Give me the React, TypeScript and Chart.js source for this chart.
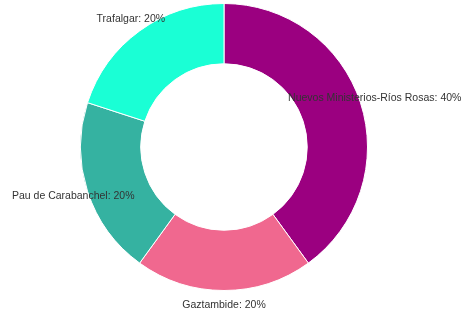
import React, { useEffect, useRef } from "react";
import { Chart, registerables } from "chart.js";

Chart.register(...registerables);

const categories = ["Nuevos Ministerios-Ríos Rosas", "Gaztambide", "Pau de Carabanchel", "Trafalgar"];
const values = [40, 20, 20, 20];
const colors = ["#9b0080", "#f0688f", "#35b2a1", "#1affd5"];

const labelPlugin = {
  id: "outerLabels",
  afterDraw(chart: any) {
    const ctx = chart.ctx;
    const meta = chart.getDatasetMeta(0);
    const total = values.reduce((a, b) => a + b, 0);
    ctx.save();
    ctx.font = '10.5px "Liberation Sans", Arial, sans-serif';
    ctx.fillStyle = "#333";
    ctx.textAlign = "center";
    ctx.textBaseline = "middle";
    meta.data.forEach((arc: any, i: number) => {
      const { x, y, startAngle, endAngle, outerRadius } = arc.getProps(
        ["x", "y", "startAngle", "endAngle", "outerRadius"],
        true
      );
      const mid = (startAngle + endAngle) / 2;
      const r = outerRadius + 15;
      const lx = x + Math.cos(mid) * r;
      const ly = y + Math.sin(mid) * r;
      const pct = Math.round((values[i] / total) * 100);
      ctx.fillText(`${categories[i]}: ${pct}%`, lx, ly);
    });
    ctx.restore();
  },
};

export default function App() {
  const ref = useRef<HTMLCanvasElement>(null);
  useEffect(() => {
    document.body.style.margin = "0";
    const chart = new Chart(ref.current!, {
      type: "doughnut",
      data: {
        labels: categories,
        datasets: [
          {
            data: values,
            backgroundColor: colors,
            borderColor: "#ffffff",
            borderWidth: 1,
          },
        ],
      },
      options: {
        responsive: false,
        animation: false,
        cutout: "58%",
        layout: { padding: { top: 3, bottom: 22, left: 0, right: 18 } },
        plugins: {
          legend: { display: false },
          tooltip: { enabled: false },
        },
      },
      plugins: [labelPlugin],
    });
    return () => chart.destroy();
  }, []);
  return (
    <div style={{ width: 466, height: 313 }}>
      <canvas ref={ref} width={466} height={313} />
    </div>
  );
}
